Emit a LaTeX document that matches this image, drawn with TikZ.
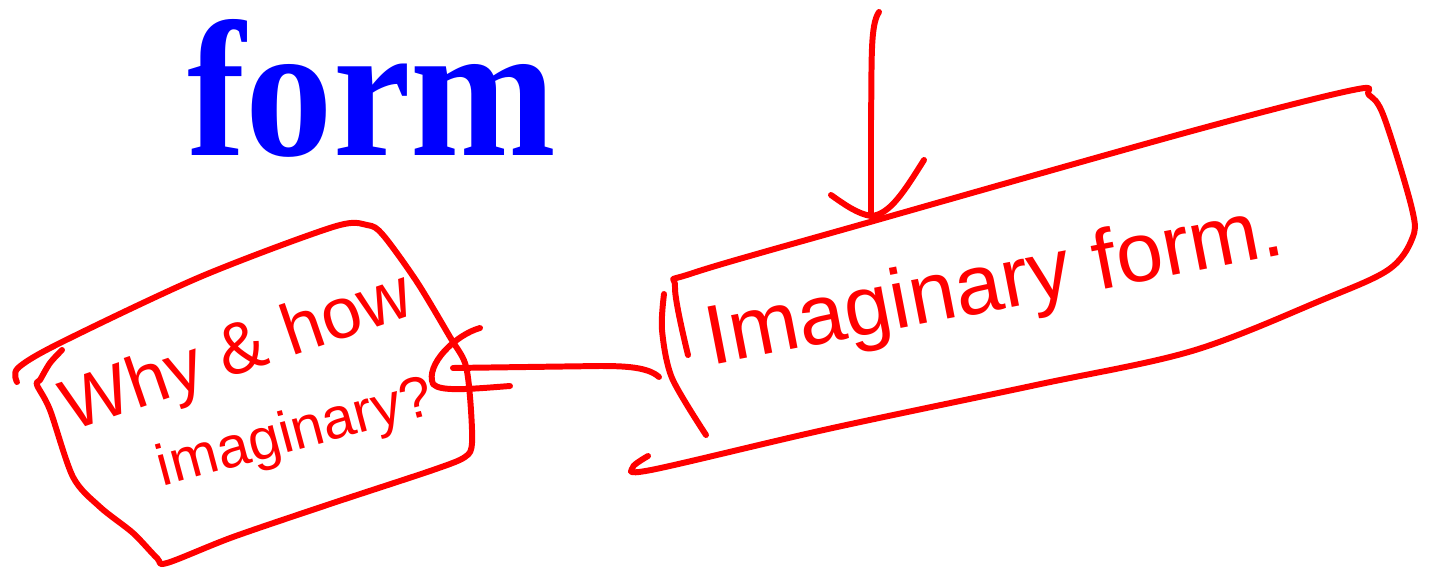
\documentclass[tikz,border=0pt]{standalone}
\usepackage{fontspec}
\setmainfont{Liberation Serif}
\newfontfamily\handfont{Liberation Sans}
\definecolor{inkred}{RGB}{255,0,0}
\definecolor{inkblue}{RGB}{0,0,255}
\tikzset{
  pen/.style={draw=inkred, line width=3.4pt, line cap=round, line join=round},
  bigword/.style={text=inkblue, font=\bfseries\fontsize{110}{114}\selectfont, inner sep=0pt},
  scrawl/.style={text=inkred, font=\handfont\fontsize{48}{52}\selectfont, inner sep=0pt},
  scrawlmid/.style={text=inkred, font=\handfont\fontsize{41}{44}\selectfont, inner sep=0pt},
  scrawlsmall/.style={text=inkred, font=\handfont\fontsize{33}{36}\selectfont, inner sep=0pt}
}
\begin{document}
\begin{tikzpicture}[x=0.02cm, y=-0.02cm]
  \useasboundingbox (0,0) rectangle (1430,568);

  % Heading
  \node[bigword, xscale=0.905, anchor=base west] (form) at (187,155) {form};

  % Arrow from the top
  \coordinate (drop) at (879,12);
  \coordinate (hit) at (871,216);
  \draw[pen] (drop) .. controls (870,25) and (872,60) .. (871,120) -- (hit);
  \draw[pen] (831,195) .. controls (845,205) and (858,214) .. (hit) .. controls (890,215) and (905,190) .. (924,160);

  % Right box
  \node[scrawl, rotate=11] (imag) at (995,288) {Imaginary form.};
  \draw[pen] plot[smooth, tension=0.55] coordinates {(688,355) (675,287) (693,273) (870,222) (1192,131) (1353,90) (1369,95) (1384,117) (1412,209) (1412,239) (1388,270) (1322,300) (1192,351) (1036,385) (828,429) (651,470) (633,467) (648,456)};
  \draw[pen] plot[smooth] coordinates {(664,294) (662,330) (672,378) (706,435)};

  % Left box
  \node[scrawlmid, rotate=19] (why) at (238,355) {Why \& how};
  \node[scrawlsmall, rotate=15] (whyb) at (296,435) {imaginary?};
  \draw[pen] plot[smooth, tension=0.5] coordinates {(17,382) (18,368) (60,343) (200,277) (333,227) (367,225) (383,235) (417,282) (450,337) (465,363) (470,397) (472,443) (465,457) (433,470) (333,503) (233,537) (167,563) (157,558) (133,533) (100,507) (73,477) (50,410) (37,385) (40,380) (50,363) (62,350)};

  % Connector
  \coordinate (imag-w) at (659,377);
  \coordinate (why-e) at (453,368);
  \draw[pen] (imag-w) .. controls (648,367) and (625,366) .. (600,366) -- (why-e);
  \draw[pen] (480,328) .. controls (455,335) and (425,365) .. (433,384) .. controls (440,392) and (470,389) .. (510,386);
\end{tikzpicture}
\end{document}
